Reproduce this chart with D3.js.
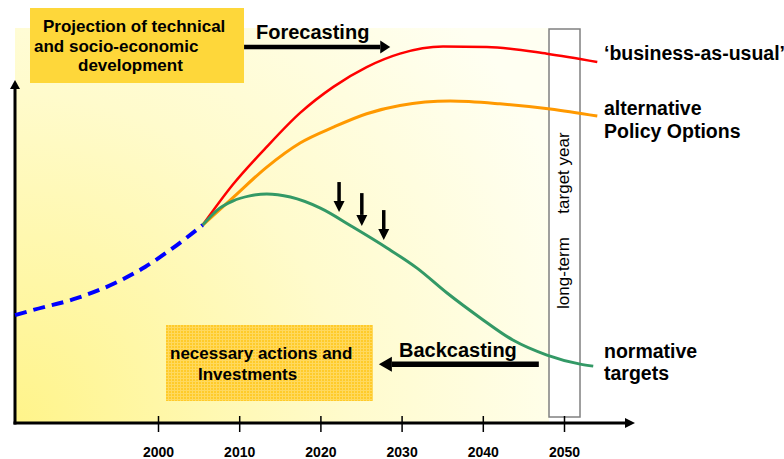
<!DOCTYPE html>
<html>
<head>
<meta charset="utf-8">
<script src="https://cdn.jsdelivr.net/npm/d3@7"></script>
<style>
  body { margin: 0; background: #fff; }
  text { font-family: Arial, "Liberation Sans", sans-serif; }
</style>
</head>
<body>
<div id="chart"></div>
<script>
// values: [year, level]
const pastYears   = [1982.4, 1984.6, 1990, 1995, 1998.4, 2001.5, 2005.5]
const pastValues  = [27.3, 28.6, 31.6, 35.7, 39.5, 43.8, 50.1]

const bauYears    = [2005.5, 2009.2, 2013.3, 2017.5, 2021.6, 2025.7, 2029.8, 2035.1, 2040.5, 2047.9, 2054.1]
const bauValues   = [50.1, 60.3, 69.7, 78.5, 85.1, 90.1, 93.5, 95.3, 95.2, 93.5, 91.4]

const altYears    = [2005.5, 2009.2, 2013.4, 2017.5, 2021.6, 2025.7, 2029.8, 2036.0, 2042.1, 2048.3, 2054.1]
const altValues   = [50.1, 57.0, 64.8, 70.9, 74.9, 78.3, 80.4, 81.5, 80.8, 79.5, 77.7]

const normYears   = [2005.5, 2007.6, 2009.2, 2011.3, 2013.4, 2016.3, 2020.0, 2024.0, 2028.2, 2031.9, 2035.6, 2039.7, 2043.7, 2047.9, 2052.0, 2053.6]
const normValues  = [50.1, 54.4, 56.2, 57.5, 58.0, 57.2, 54.4, 49.6, 44.3, 39.2, 32.9, 26.6, 21.0, 17.2, 14.9, 14.4]

const tickYears   = [2000, 2010, 2020, 2030, 2040, 2050]
const targetYear  = 2050

// small down arrows on the normative path: [year, from, to]
const pushYears   = [2022.3, 2025.1, 2027.8]
const pushFrom    = [61.0, 58.2, 53.9]
const pushTo      = [53.4, 49.9, 46.3]

const config = {
    svgWidth: 784,
    svgHeight: 459,
    axisLeft: 15,
    axisBottom: 423,
    axisRight: 635,
    axisTop: 80
}

const x = d3.scaleLinear().domain([2000, 2050]).range([158, 564])
const y = d3.scaleLinear().domain([0, 100]).range([config.axisBottom, 28])

const svg = d3.select('#chart')
    .append("svg")
        .attr("width", config.svgWidth)
        .attr("height", config.svgHeight)

const defs = svg.append("defs")
const grad = defs.append("radialGradient")
    .attr("id", "bg")
    .attr("gradientUnits", "userSpaceOnUse")
    .attr("cx", 15).attr("cy", 423).attr("r", 600)
grad.append("stop").attr("offset", 0).attr("stop-color", "#fff48a")
grad.append("stop").attr("offset", 0.55).attr("stop-color", "#fffbcc")
grad.append("stop").attr("offset", 1).attr("stop-color", "#fffff2")

const pat = defs.append("pattern")
    .attr("id", "grid")
    .attr("width", 3).attr("height", 3)
    .attr("patternUnits", "userSpaceOnUse")
pat.append("rect").attr("width", 3).attr("height", 3).attr("fill", "#ffcb2a")
pat.append("path").attr("d", "M0,0.5H3M0.5,0V3").attr("stroke", "#ffd95e").attr("stroke-width", 1)

// shaded panel
svg.append("rect")
    .attr("x", config.axisLeft)
    .attr("y", y(100))
    .attr("width", x(targetYear) - 15 - config.axisLeft)
    .attr("height", config.axisBottom - y(100))
    .attr("fill", "url(#bg)")

// target year column
svg.append("rect")
    .attr("x", x(targetYear) - 15)
    .attr("y", y(100) + 1)
    .attr("width", 31)
    .attr("height", 388)
    .attr("fill", "#fff")
    .attr("stroke", "#808080")
    .attr("stroke-width", 1.5)

svg.append("text")
    .attr("transform", `translate(${x(targetYear) + 5},273) rotate(-90)`)
    .attr("text-anchor", "middle")
    .attr("font-size", 17)
    .text("long-term")
svg.append("text")
    .attr("transform", `translate(${x(targetYear) + 5},173) rotate(-90)`)
    .attr("text-anchor", "middle")
    .attr("font-size", 17)
    .text("target year")

function arrow(x1, y1, x2, y2, w, headW, headL) {
    const a = Math.atan2(y2 - y1, x2 - x1)
    const bx = x2 - headL * Math.cos(a), by = y2 - headL * Math.sin(a)
    const px = -Math.sin(a) * headW / 2, py = Math.cos(a) * headW / 2
    svg.append("line")
        .attr("x1", x1).attr("y1", y1).attr("x2", bx).attr("y2", by)
        .attr("stroke", "#000").attr("stroke-width", w)
    svg.append("path")
        .attr("d", `M${x2},${y2}L${bx + px},${by + py}L${bx - px},${by - py}Z`)
        .attr("fill", "#000")
}

// axes
arrow(config.axisLeft, config.axisBottom + 1.5, config.axisLeft, config.axisTop, 3, 10, 9)
arrow(config.axisLeft - 1.5, config.axisBottom, config.axisRight, config.axisBottom, 3, 10, 10)

const xAxis = d3.axisBottom(x).tickValues(tickYears).tickSize(9).tickFormat(d3.format("d"))
const gx = svg.append("g")
    .attr("transform", `translate(0,${config.axisBottom})`)
    .call(xAxis)
gx.select(".domain").remove()
gx.selectAll(".tick line").attr("y1", -7).attr("stroke-width", 1.5)
gx.selectAll(".tick text")
    .attr("y", 24)
    .attr("font-size", 14)
    .attr("font-weight", "bold")
    .attr("font-family", "Arial, 'Liberation Sans', sans-serif")
    .attr("fill", "#000")

// curves
const line = d3.line()
    .x(d => x(d[0]))
    .y(d => y(d[1]))
    .curve(d3.curveMonotoneX)

const series = [
    { years: bauYears,  values: bauValues,  color: "#ff0000", width: 2.5 },
    { years: altYears,  values: altValues,  color: "#ff9900", width: 3 },
    { years: normYears, values: normValues, color: "#339966", width: 3 },
    { years: pastYears, values: pastValues, color: "#0000ff", width: 4, dash: "12 7" }
]

svg.selectAll("path.series")
    .data(series)
    .enter()
    .append("path")
    .attr("class", "series")
    .attr("fill", "none")
    .attr("stroke", d => d.color)
    .attr("stroke-width", d => d.width)
    .attr("stroke-dasharray", d => d.dash || null)
    .attr("d", d => line(d.years.map((yr, i) => [yr, d.values[i]])))

// downward pressure arrows
pushYears.forEach((yr, i) => {
    arrow(x(yr), y(pushFrom[i]), x(yr), y(pushTo[i]), 3.5, 11, 11)
})

// top box
svg.append("rect")
    .attr("x", 30).attr("y", 8).attr("width", 214).attr("height", 75)
    .attr("fill", "#fed73a")
const topLines = [["Projection of technical", 43, 32], ["and socio-economic", 34, 52], ["development", 78, 71]]
svg.selectAll("text.top")
    .data(topLines)
    .enter()
    .append("text")
    .attr("x", d => d[1]).attr("y", d => d[2])
    .attr("font-size", 17).attr("font-weight", "bold")
    .text(d => d[0])

// bottom box
svg.append("rect")
    .attr("x", 166).attr("y", 325).attr("width", 207).attr("height", 76)
    .attr("fill", "url(#grid)")
const botLines = [["necessary actions and", 170, 359], ["Investments", 198, 380]]
svg.selectAll("text.bot")
    .data(botLines)
    .enter()
    .append("text")
    .attr("x", d => d[1]).attr("y", d => d[2])
    .attr("font-size", 17).attr("font-weight", "bold")
    .text(d => d[0])

// forecasting / backcasting
arrow(x(2010.6), y(95.2), x(2028.6), y(95.2), 4.5, 13, 10)
svg.append("text").attr("x", 256).attr("y", 39)
    .attr("font-size", 20).attr("font-weight", "bold").text("Forecasting")
arrow(x(2046.9), y(14.9), x(2027.2), y(14.9), 5.5, 15, 13)
svg.append("text").attr("x", 399).attr("y", 357)
    .attr("font-size", 20).attr("font-weight", "bold").text("Backcasting")

// right labels
const labels = [["‘business-as-usual’", 60], ["alternative", 115], ["Policy Options", 138], ["normative", 358], ["targets", 380]]
svg.selectAll("text.lab")
    .data(labels)
    .enter()
    .append("text")
    .attr("x", 604).attr("y", d => d[1])
    .attr("font-size", 19.5).attr("font-weight", "bold")
    .text(d => d[0])
</script>
</body>
</html>
